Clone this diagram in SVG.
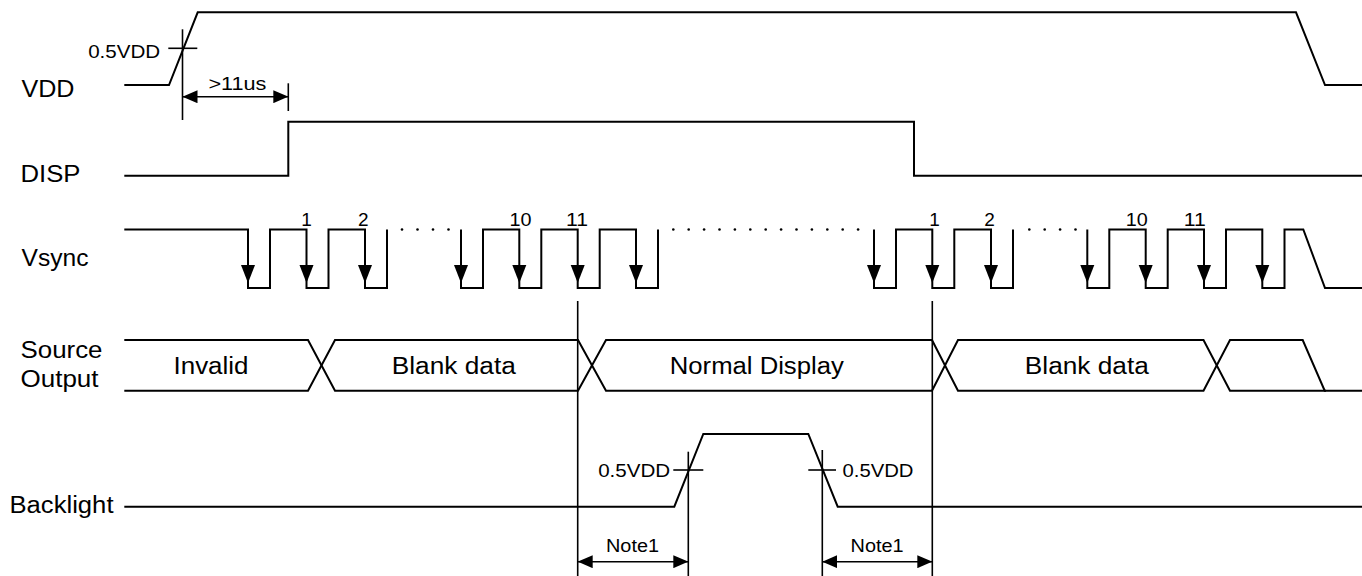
<svg xmlns="http://www.w3.org/2000/svg" xmlns:xlink="http://www.w3.org/1999/xlink" width="1362" height="576" viewBox="0 0 1362 576">
<style>
.sig{fill:none;stroke:#000;stroke-width:2;stroke-linejoin:miter}
.thin{fill:none;stroke:#000;stroke-width:1.6}
.t{font-family:"Liberation Sans",Arial,Helvetica,sans-serif;font-size:23px;fill:#000}
.s{font-family:"Liberation Sans",Arial,Helvetica,sans-serif;font-size:18px;fill:#000}
.n{font-family:"Liberation Sans",Arial,Helvetica,sans-serif;font-size:19px;fill:#000}
.dot{fill:#000}
</style>
<defs>
<marker id="ah" viewBox="0 0 15 13" refX="15" refY="6.5" markerWidth="15" markerHeight="13" markerUnits="userSpaceOnUse" orient="auto-start-reverse">
<path d="M0,0 L15,6.5 L0,13 Z" fill="#000"/>
</marker>
<path id="va" d="M-7,-18 L7,-18 L0,0 Z" fill="#000"/>
</defs>
<rect width="1362" height="576" fill="#fff"/>

<g id="vdd">
<text class="t" x="21.5" y="96.7" textLength="53" lengthAdjust="spacingAndGlyphs">VDD</text>
<path class="sig" d="M124.3,85 H169 L197.7,12.3 H1296 L1325,85 H1362"/>
</g>

<g id="disp">
<text class="t" x="20.5" y="181.7" textLength="60" lengthAdjust="spacingAndGlyphs">DISP</text>
<path class="sig" d="M124.3,175.7 H288.3 V121.7 H914 V175.7 H1362"/>
</g>

<g id="vsync">
<text class="t" x="21.5" y="266" textLength="67" lengthAdjust="spacingAndGlyphs">Vsync</text>
<path class="sig" d="M124.3,229.5 H248 V288 H270 V229.5 H306.5 V288 H328.5 V229.5 H365 V288 H387 V229.5"/>
<path class="sig" d="M461,229.5 V288 H483 V229.5 H519.3 V288 H541.3 V229.5 H577.7 V288 H599.7 V229.5 H636 V288 H658 V229.5"/>
<path class="sig" d="M874,229.5 V288 H896 V229.5 H932.3 V288 H954.3 V229.5 H991 V288 H1013 V229.5"/>
<path class="sig" d="M1087.3,229.5 V288 H1109.3 V229.5 H1145.7 V288 H1167.7 V229.5 H1204 V288 H1226 V229.5 H1262.3 V288 H1284.5 V229.5 H1303.3 L1325,288 H1362"/>
<use xlink:href="#va" x="248" y="283"/>
<use xlink:href="#va" x="306.5" y="283"/>
<use xlink:href="#va" x="365" y="283"/>
<use xlink:href="#va" x="461" y="283"/>
<use xlink:href="#va" x="519.3" y="283"/>
<use xlink:href="#va" x="577.7" y="283"/>
<use xlink:href="#va" x="636" y="283"/>
<use xlink:href="#va" x="874" y="283"/>
<use xlink:href="#va" x="932.3" y="283"/>
<use xlink:href="#va" x="991" y="283"/>
<use xlink:href="#va" x="1087.3" y="283"/>
<use xlink:href="#va" x="1145.7" y="283"/>
<use xlink:href="#va" x="1204" y="283"/>
<use xlink:href="#va" x="1262.3" y="283"/>
<g class="dot">
<circle cx="402" cy="229.5" r="1.3"/><circle cx="417.5" cy="229.5" r="1.3"/><circle cx="433" cy="229.5" r="1.3"/><circle cx="448.5" cy="229.5" r="1.3"/>
<circle cx="673.3" cy="229.5" r="1.3"/><circle cx="688.7" cy="229.5" r="1.3"/><circle cx="704.1" cy="229.5" r="1.3"/><circle cx="719.5" cy="229.5" r="1.3"/><circle cx="734.9" cy="229.5" r="1.3"/><circle cx="750.3" cy="229.5" r="1.3"/><circle cx="765.7" cy="229.5" r="1.3"/><circle cx="781.1" cy="229.5" r="1.3"/><circle cx="796.5" cy="229.5" r="1.3"/><circle cx="811.9" cy="229.5" r="1.3"/><circle cx="827.3" cy="229.5" r="1.3"/><circle cx="842.7" cy="229.5" r="1.3"/><circle cx="858.1" cy="229.5" r="1.3"/>
<circle cx="1029.3" cy="229.5" r="1.3"/><circle cx="1044.7" cy="229.5" r="1.3"/><circle cx="1060.1" cy="229.5" r="1.3"/><circle cx="1075.5" cy="229.5" r="1.3"/>
</g>
<g class="n" text-anchor="middle">
<text x="306.6" y="225.5">1</text>
<text x="363.3" y="225.5">2</text>
<text x="520.5" y="225.5" textLength="22" lengthAdjust="spacingAndGlyphs">10</text>
<text x="577" y="225.5" textLength="22" lengthAdjust="spacingAndGlyphs">11</text>
<text x="934.6" y="225.5">1</text>
<text x="989.5" y="225.5">2</text>
<text x="1136.7" y="225.5" textLength="22" lengthAdjust="spacingAndGlyphs">10</text>
<text x="1194.8" y="225.5" textLength="22" lengthAdjust="spacingAndGlyphs">11</text>
</g>
</g>

<g id="source">
<text class="t" x="20.5" y="358" textLength="82" lengthAdjust="spacingAndGlyphs">Source</text>
<text class="t" x="20.5" y="387" textLength="78" lengthAdjust="spacingAndGlyphs">Output</text>
<path class="sig" d="M124.3,340 H308 L335,390.7 H578 L606,340 H932 L958,390.7 H1203.5 L1230,340 H1302.7 L1324.7,390.7 H1362"/>
<path class="sig" d="M124.3,390.7 H308 L335,340 H578 L606,390.7 H932 L958,340 H1203.5 L1230,390.7 H1326"/>
<text class="t" x="173.5" y="373.5" textLength="75" lengthAdjust="spacingAndGlyphs">Invalid</text>
<text class="t" x="391.8" y="373.5" textLength="124" lengthAdjust="spacingAndGlyphs">Blank data</text>
<text class="t" x="669.8" y="373.5" textLength="174" lengthAdjust="spacingAndGlyphs">Normal Display</text>
<text class="t" x="1024.8" y="373.5" textLength="124" lengthAdjust="spacingAndGlyphs">Blank data</text>
</g>

<g id="backlight">
<text class="t" x="9.5" y="512.7" textLength="104" lengthAdjust="spacingAndGlyphs">Backlight</text>
<path class="sig" d="M124.3,506.7 H674.3 L703.3,434 H808.3 L837.7,506.7 H1362"/>
</g>

<g id="connectors">
<line class="thin" x1="182.5" y1="29.3" x2="182.5" y2="120"/>
<line class="thin" x1="168.3" y1="48.3" x2="197.3" y2="48.3"/>
<line class="thin" x1="288.3" y1="83.3" x2="288.3" y2="111"/>
<line class="thin" x1="182.5" y1="96.7" x2="288.3" y2="96.7" marker-start="url(#ah)" marker-end="url(#ah)"/>
<line class="thin" x1="577.7" y1="301" x2="577.7" y2="576"/>
<line class="thin" x1="932.3" y1="301" x2="932.3" y2="576"/>
<line class="thin" x1="688.3" y1="451.7" x2="688.3" y2="576"/>
<line class="thin" x1="673.3" y1="470" x2="703.3" y2="470"/>
<line class="thin" x1="822.3" y1="450" x2="822.3" y2="576"/>
<line class="thin" x1="808.3" y1="470" x2="836" y2="470"/>
<line class="thin" x1="577.7" y1="561.7" x2="688.3" y2="561.7" marker-start="url(#ah)" marker-end="url(#ah)"/>
<line class="thin" x1="822.3" y1="561.7" x2="932.3" y2="561.7" marker-start="url(#ah)" marker-end="url(#ah)"/>
<text class="s" x="88.2" y="57.5" textLength="72" lengthAdjust="spacingAndGlyphs">0.5VDD</text>
<text class="s" x="208.4" y="89.7" textLength="58" lengthAdjust="spacingAndGlyphs">&gt;11us</text>
<text class="s" x="598.2" y="476.7" textLength="72" lengthAdjust="spacingAndGlyphs">0.5VDD</text>
<text class="s" x="842.5" y="476.7" textLength="71" lengthAdjust="spacingAndGlyphs">0.5VDD</text>
<text class="s" x="606" y="551.7" textLength="53" lengthAdjust="spacingAndGlyphs">Note1</text>
<text class="s" x="850.6" y="551.7" textLength="53" lengthAdjust="spacingAndGlyphs">Note1</text>
</g>
</svg>
